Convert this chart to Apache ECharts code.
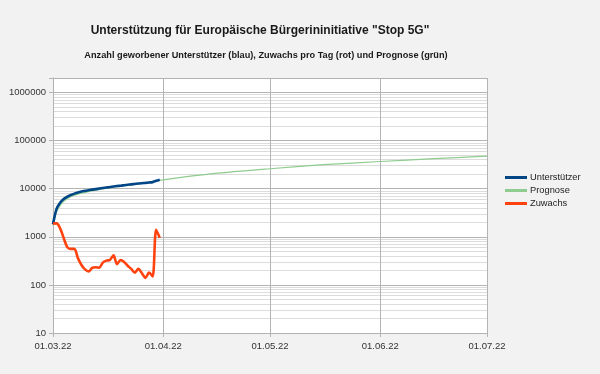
<!DOCTYPE html>
<html><head><meta charset="utf-8">
<script src="https://cdn.jsdelivr.net/npm/echarts@6/dist/echarts.min.js"></script>
<style>html,body{margin:0;padding:0;background:#f2f2f2}#c{width:600px;height:374px}</style>
</head><body><div id="c"></div>
<script>
const titleText = 'Unterstützung für Europäische Bürgerininitiative "Stop 5G"';
const subtitleText = 'Anzahl geworbener Unterstützer (blau), Zuwachs pro Tag (rot) und Prognose (grün)';
const seriesNames = ['Unterstützer', 'Prognose', 'Zuwachs'];
const xTickDates = ['2022-03-01', '2022-04-01', '2022-05-01', '2022-06-01', '2022-07-01'];
const yTickValues = [10, 100, 1000, 10000, 100000, 1000000];

const marchDates = [];
for (let d = 1; d <= 31; d++) marchDates.push('2022-03-' + String(d).padStart(2, '0'));

const supporters = [1820, 3800, 5100, 6100, 6800, 7400, 7900, 8300, 8700, 9000, 9300, 9550, 9800, 10050, 10300,
  10550, 10800, 11100, 11350, 11550, 11800, 12050, 12300, 12550, 12800, 13000, 13200, 13450, 13700, 14600, 15400];
const dailyGrowth = [1880, 1900, 1500, 950, 610, 560, 560, 360, 260, 210, 190, 225, 232, 228, 290,
  320, 330, 410, 270, 330, 300, 250, 215, 180, 215, 175, 140, 180, 150, 1400, 950];

const forecastDates = ['2022-03-01', '2022-03-02', '2022-03-03', '2022-03-04', '2022-03-06', '2022-03-08', '2022-03-11',
  '2022-03-15', '2022-03-21', '2022-03-26', '2022-04-01', '2022-04-15', '2022-05-01', '2022-05-16', '2022-06-01',
  '2022-06-16', '2022-07-01'];
const forecast = [1750, 3300, 4500, 5500, 6800, 7700, 8700, 9900, 11500, 12900, 15300, 20500, 26000, 31500, 36700,
  42000, 47500];

const minorGrid = [];
for (let e = 1; e <= 5; e++) for (let m = 2; m <= 9; m++) minorGrid.push({ yAxis: m * Math.pow(10, e) });

const toTime = s => Date.UTC(+s.slice(0, 4), +s.slice(5, 7) - 1, +s.slice(8, 10));
function fmtDate(v) {
  const d = new Date(v);
  return String(d.getUTCDate()).padStart(2, '0') + '.' + String(d.getUTCMonth() + 1).padStart(2, '0') + '.' + String(d.getUTCFullYear()).slice(2);
}
const xTickTimes = xTickDates.map(toTime);
const xVLines = xTickTimes.slice(1).map(t => ({ xAxis: t }));

const font = "'Liberation Sans', Arial, sans-serif";
const chart = echarts.init(document.getElementById('c'));
chart.setOption({
  backgroundColor: '#f2f2f2',
  animation: false,
  title: [
    { text: titleText, left: 255, top: 20, textAlign: 'center',
      textStyle: { fontFamily: font, fontSize: 12, fontWeight: 'bold', color: '#1a1a1a' } },
    { text: subtitleText, left: 261, top: 46, textAlign: 'center',
      textStyle: { fontFamily: font, fontSize: 9.2, fontWeight: 'bold', color: '#1a1a1a' } }
  ],
  legend: {
    orient: 'vertical', left: 500, top: 168, itemWidth: 22, itemHeight: 3, itemGap: 4,
    icon: 'rect',
    textStyle: { fontFamily: font, fontSize: 9.3, color: '#222', padding: [0, 0, 0, -2] },
    data: seriesNames
  },
  grid: { left: 53, right: 113, top: 78, bottom: 41, show: true, backgroundColor: '#ffffff', borderWidth: 0 },
  xAxis: {
    type: 'value', min: xTickTimes[0], max: xTickTimes[xTickTimes.length - 1],
    axisLine: { lineStyle: { color: '#b3b3b3' } },
    axisTick: { show: true, length: 4, lineStyle: { color: '#b3b3b3' }, customValues: xTickTimes },
    axisLabel: { customValues: xTickTimes, formatter: v => fmtDate(v), fontFamily: font, fontSize: 9.5, color: '#333', margin: 8 },
    splitLine: { show: false }
  },
  yAxis: {
    type: 'log', logBase: 10, min: 10, max: 2000000,
    axisLine: { show: true, lineStyle: { color: '#b3b3b3' } },
    axisTick: { show: true, length: 4, lineStyle: { color: '#b3b3b3' } },
    axisLabel: { fontFamily: font, fontSize: 9.5, color: '#333', margin: 7,
      formatter: v => (yTickValues.indexOf(Math.round(v)) >= 0 ? String(Math.round(v)) : '') },
    splitLine: { show: true, lineStyle: { color: '#b3b3b3', width: 1 } }
  },
  series: [
    { name: 'grid', type: 'line', data: [], silent: true, z: 1,
      markLine: { silent: true, z: 1, symbol: 'none', label: { show: false }, animation: false,
        lineStyle: { color: '#b3b3b3', type: 'solid', width: 1 }, data: xVLines } },
    { name: 'minor', type: 'line', data: [], silent: true, z: 0,
      markLine: { silent: true, z: 0, symbol: 'none', label: { show: false }, animation: false,
        lineStyle: { color: '#dcdcdc', type: 'solid', width: 1 }, data: minorGrid } },
    { name: seriesNames[1], type: 'line', showSymbol: false, smooth: 0.3, z: 3,
      color: '#8fcc8f', lineStyle: { width: 1.2, color: '#8fcc8f' },
      data: forecastDates.map((d, i) => [toTime(d), forecast[i]]) },
    { name: seriesNames[0], type: 'line', showSymbol: false, smooth: 0.3, z: 4,
      color: '#004586', lineStyle: { width: 2.6, color: '#004586' },
      data: marchDates.map((d, i) => [toTime(d), supporters[i]]) },
    { name: seriesNames[2], type: 'line', showSymbol: false, smooth: 0.3, z: 4,
      color: '#ff420e', lineStyle: { width: 2.6, color: '#ff420e' },
      data: marchDates.map((d, i) => [toTime(d), dailyGrowth[i]]) }
  ]
});
</script></body></html>
